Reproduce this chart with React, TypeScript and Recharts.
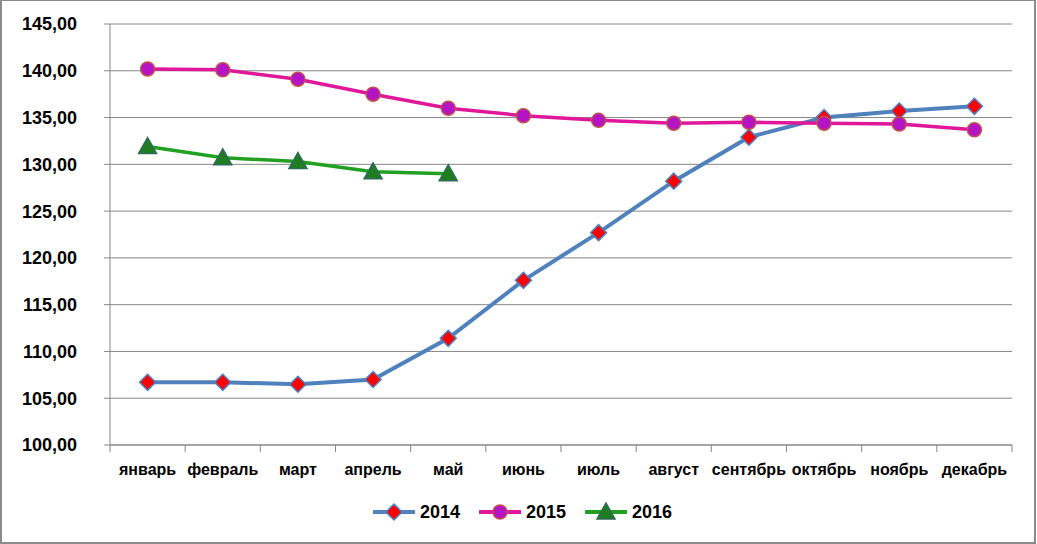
import { LineChart, Line, XAxis, YAxis, CartesianGrid, Legend } from 'recharts';

const months = ['январь', 'февраль', 'март', 'апрель', 'май', 'июнь', 'июль', 'август', 'сентябрь', 'октябрь', 'ноябрь', 'декабрь'];
const values2014 = [106.7, 106.7, 106.5, 107.0, 111.4, 117.6, 122.7, 128.2, 132.9, 135.0, 135.7, 136.2];
const values2015 = [140.2, 140.1, 139.1, 137.5, 136.0, 135.2, 134.7, 134.4, 134.5, 134.4, 134.3, 133.7];
const values2016 = [131.9, 130.7, 130.3, 129.2, 129.0];
const yTicks = [100, 105, 110, 115, 120, 125, 130, 135, 140, 145];

const data = months.map((m, i) => ({
  month: m,
  y2014: values2014[i],
  y2015: values2015[i],
  y2016: values2016[i],
}));

const W = 1037;
const H = 544;
const margin = { top: 24, right: 25, left: 0, bottom: 12 };
const yAxisWidth = 110;
const step = (W - margin.left - margin.right - yAxisWidth) / months.length;
const grey = '#868686';
const font = '"Liberation Sans", Arial, sans-serif';

const Diamond = ({ cx, cy }: any) => (
  <polygon points={`${cx},${cy - 8} ${cx + 8},${cy} ${cx},${cy + 8} ${cx - 8},${cy}`} fill="#ff0000" stroke="#4f81bd" strokeWidth={1.5} />
);
const Circle = ({ cx, cy }: any) => <circle cx={cx} cy={cy} r={7} fill="#b414c4" stroke="#c0504d" strokeWidth={1.5} />;
const Triangle = ({ cx, cy }: any) => (
  <polygon points={`${cx},${cy - 9} ${cx + 9},${cy + 7} ${cx - 9},${cy + 7}`} fill="#1e7d1e" stroke="#2f6b5a" strokeWidth={1.5} />
);

const MonthTick = ({ x, y, payload, index }: any) => (
  <g>
    <line x1={x - step / 2} y1={y} x2={x - step / 2} y2={y + 7} stroke={grey} />
    {index === months.length - 1 && <line x1={x + step / 2} y1={y} x2={x + step / 2} y2={y + 7} stroke={grey} />}
    <text x={x} y={y + 30} textAnchor="middle" fontFamily={font} fontSize={16} fontWeight="bold" fill="#000">
      {payload.value}
    </text>
  </g>
);

const legendItems = [
  { name: '2014', color: '#4f81bd', Marker: Diamond },
  { name: '2015', color: '#e0179b', Marker: Circle },
  { name: '2016', color: '#22a022', Marker: Triangle },
];

const LegendContent = () => (
  <div style={{ display: 'flex', justifyContent: 'center', alignItems: 'center', height: 40, paddingLeft: 8 }}>
    {legendItems.map(({ name, color, Marker }, i) => (
      <div key={name} style={{ display: 'flex', alignItems: 'center', marginLeft: i ? 19 : 0 }}>
        <svg width={42} height={20}>
          <line x1={1} y1={10} x2={41} y2={10} stroke={color} strokeWidth={4} strokeLinecap="round" />
          <Marker cx={21} cy={10} />
        </svg>
        <span style={{ marginLeft: 5, fontFamily: font, fontSize: 18, fontWeight: 'bold', color: '#000' }}>{name}</span>
      </div>
    ))}
  </div>
);

const App = () => {
  return (
    <div style={{ position: 'absolute', left: 0, top: 0, width: W, height: H, background: '#fff' }}>
      <div style={{ position: 'absolute', left: 0, top: 0, width: 1036, height: H, border: '2px solid #8a8a8a', borderTopWidth: 1, boxSizing: 'border-box' }} />
      <div style={{ position: 'absolute', left: 0, top: 0 }}>
        <LineChart width={W} height={H} data={data} margin={margin}>
          <CartesianGrid vertical={false} stroke={grey} strokeWidth={1} />
          <XAxis
            dataKey="month"
            height={47}
            padding={{ left: step / 2, right: step / 2 }}
            axisLine={{ stroke: grey }}
            tickLine={false}
            tickSize={0}
            tickMargin={0}
            interval={0}
            tick={<MonthTick />}
          />
          <YAxis
            width={yAxisWidth}
            domain={[100, 145]}
            ticks={yTicks}
            axisLine={{ stroke: grey }}
            tickLine={{ stroke: grey }}
            tickSize={6}
            tickMargin={27}
            tickFormatter={(v: number) => v.toFixed(2).replace('.', ',')}
            tick={{ fill: '#000', fontFamily: font, fontSize: 18, fontWeight: 'bold' }}
          />
          <Legend verticalAlign="bottom" height={40} wrapperStyle={{ left: 0, width: W }} content={<LegendContent />} />
          <Line dataKey="y2014" stroke="#4f81bd" strokeWidth={4} dot={(p: any) => <Diamond key={p.index} {...p} />} activeDot={false} isAnimationActive={false} />
          <Line dataKey="y2015" stroke="#e0179b" strokeWidth={3.5} dot={(p: any) => <Circle key={p.index} {...p} />} activeDot={false} isAnimationActive={false} />
          <Line dataKey="y2016" stroke="#22a022" strokeWidth={3.5} dot={(p: any) => <Triangle key={p.index} {...p} />} activeDot={false} isAnimationActive={false} />
        </LineChart>
      </div>
    </div>
  );
};

export default App;
